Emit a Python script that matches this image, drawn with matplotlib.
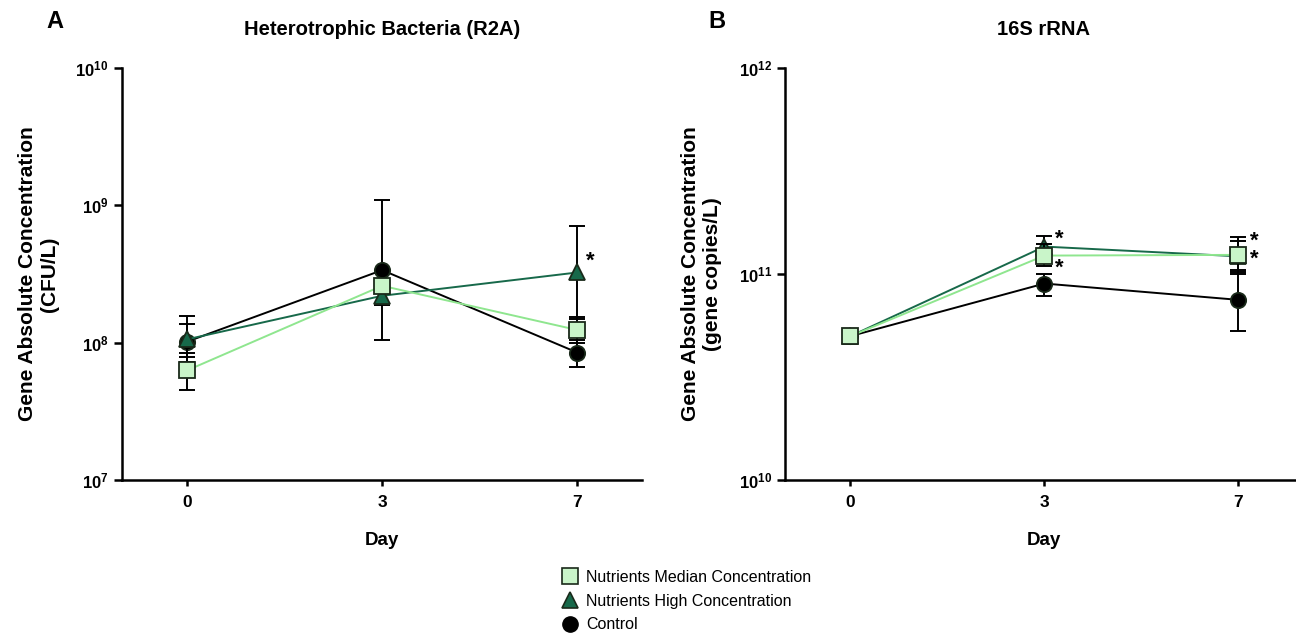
import numpy as np
import matplotlib
matplotlib.use("Agg")
import matplotlib.pyplot as plt
from matplotlib.lines import Line2D
from matplotlib.ticker import FixedLocator, FuncFormatter

plt.rcParams['font.family'] = ['Liberation Sans', 'DejaVu Sans']
plt.rcParams['mathtext.fontset'] = 'custom'
plt.rcParams['mathtext.rm'] = 'Liberation Sans'
plt.rcParams['mathtext.bf'] = 'Liberation Sans:bold'

days = ['0', '3', '7']

# panel A: heterotrophic bacteria (CFU/L)
a_median = [6.3e7, 2.6e8, 1.24e8]
a_median_lo = [4.5e7, 2.4e8, 1.0e8]
a_median_hi = [8.5e7, 2.8e8, 1.55e8]
a_high = [1.06e8, 2.2e8, 3.25e8]
a_high_lo = [7.2e7, 1.9e8, 1.5e8]
a_high_hi = [1.57e8, 2.5e8, 7.1e8]
a_ctrl = [1.02e8, 3.38e8, 8.5e7]
a_ctrl_lo = [7.9e7, 1.04e8, 6.7e7]
a_ctrl_hi = [1.37e8, 1.09e9, 1.05e8]
a_stars = [(2.065, 3.9e8, '*')]

# panel B: 16S rRNA (gene copies/L)
b_median = [5.0e10, 1.23e11, 1.24e11]
b_median_lo = [5.0e10, 1.09e11, 1.02e11]
b_median_hi = [5.0e10, 1.40e11, 1.44e11]
b_high = [5.0e10, 1.36e11, 1.22e11]
b_high_lo = [5.0e10, 1.25e11, 1.0e11]
b_high_hi = [5.0e10, 1.53e11, 1.52e11]
b_ctrl = [5.0e10, 9.0e10, 7.5e10]
b_ctrl_lo = [5.0e10, 7.85e10, 5.3e10]
b_ctrl_hi = [5.0e10, 1.0e11, 1.05e11]
b_stars = [(1.075, 1.47e11, '*'), (1.075, 1.07e11, '*'), (2.08, 1.31e11, '*\n*')]

c_med_fill = '#c9f5c9'
c_med_line = '#8fe68f'
c_high = '#17694a'
c_ctrl = 'black'


def draw_series(ax, y, lo, hi, marker, face, line, ms, z):
    x = np.arange(len(y))
    y = np.array(y)
    yerr = [y - np.array(lo), np.array(hi) - y]
    ax.errorbar(x, y, yerr=yerr, fmt='none', ecolor='black', elinewidth=1.4,
                capsize=6, capthick=1.4, zorder=z)
    ax.plot(x, y, color=line, lw=1.4, zorder=z + 0.1)
    ax.plot(x, y, ls='none', marker=marker, ms=ms, mfc=face, mec='#1a2a1a',
            mew=1.3, zorder=z + 0.2)


def setup(ax, lo, hi, title, ylabel):
    ax.set_yscale('log')
    ax.set_ylim(lo, hi)
    ax.set_xlim(-0.335, 2.33)
    dec = np.arange(int(np.log10(lo)), int(np.log10(hi)) + 1)
    ax.yaxis.set_major_locator(FixedLocator(10.0 ** dec))
    ax.yaxis.set_minor_locator(FixedLocator([]))
    ax.yaxis.set_major_formatter(FuncFormatter(
        lambda v, p: r'$\mathbf{10^{%d}}$' % round(np.log10(v))))
    ax.set_xticks(range(len(days)))
    ax.set_xticklabels(days, fontweight='bold', fontsize=12.5)
    ax.tick_params(axis='y', labelsize=12, width=1.8, length=6)
    ax.tick_params(axis='x', width=1.8, length=4.5, pad=6)
    for s in ['top', 'right']:
        ax.spines[s].set_visible(False)
    for s in ['left', 'bottom']:
        ax.spines[s].set_linewidth(1.8)
    ax.set_title(title, fontweight='bold', fontsize=14.5, pad=24)
    ax.set_ylabel(ylabel, fontweight='bold', fontsize=15, labelpad=12)
    ax.set_xlabel('Day', fontweight='bold', fontsize=13.5, labelpad=16)


fig = plt.figure(figsize=(12.96, 6.36), dpi=100)
ax1 = fig.add_axes([0.094, 0.245, 0.401, 0.648])
ax2 = fig.add_axes([0.606, 0.245, 0.399, 0.648])

setup(ax1, 1e7, 1e10, 'Heterotrophic Bacteria (R2A)',
      'Gene Absolute Concentration\n(CFU/L)')
setup(ax2, 1e10, 1e12, '16S rRNA',
      'Gene Absolute Concentration\n(gene copies/L)')

for ax, d in [(ax1, (a_ctrl, a_ctrl_lo, a_ctrl_hi, a_high, a_high_lo, a_high_hi,
                     a_median, a_median_lo, a_median_hi, a_stars)),
              (ax2, (b_ctrl, b_ctrl_lo, b_ctrl_hi, b_high, b_high_lo, b_high_hi,
                     b_median, b_median_lo, b_median_hi, b_stars))]:
    draw_series(ax, d[0], d[1], d[2], 'o', c_ctrl, c_ctrl, 11, 3)
    draw_series(ax, d[3], d[4], d[5], '^', c_high, c_high, 12, 4)
    draw_series(ax, d[6], d[7], d[8], 's', c_med_fill, c_med_line, 11, 5)
    for sx, sy, st in d[9]:
        ax.text(sx, sy, st, fontsize=16, fontweight='bold', ha='center',
                va='center', linespacing=0.8, zorder=10)

fig.text(0.042, 0.966, 'A', fontsize=17, fontweight='bold', ha='center', va='center')
fig.text(0.553, 0.966, 'B', fontsize=17, fontweight='bold', ha='center', va='center')

handles = [
    Line2D([], [], ls='none', marker='s', ms=11, mfc=c_med_fill, mec='#1a2a1a', mew=1.2),
    Line2D([], [], ls='none', marker='^', ms=12, mfc=c_high, mec='#1a2a1a', mew=1.2),
    Line2D([], [], ls='none', marker='o', ms=11, mfc='black', mec='black'),
]
labels = ['Nutrients Median Concentration', 'Nutrients High Concentration', 'Control']
fig.legend(handles, labels, loc='center', bbox_to_anchor=(0.529, 0.055),
           frameon=False, fontsize=11.5, handletextpad=0.4, labelspacing=0.55,
           handlelength=1.2)

fig.savefig('out.png', dpi=100)
